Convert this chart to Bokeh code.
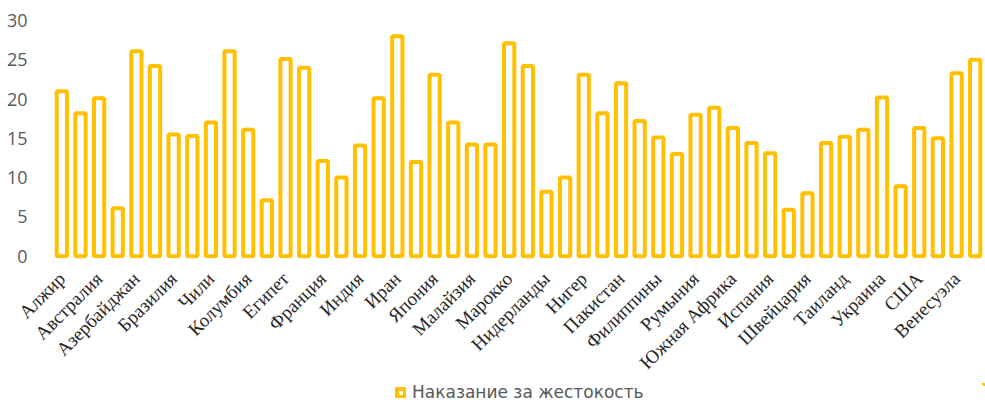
from bokeh.plotting import figure
from bokeh.layouts import column
from bokeh.models import Range1d, FixedTicker, Legend, LegendItem, ColumnDataSource
from bokeh.embed import file_html
from bokeh.resources import INLINE
import math

countries = [
    "Алжир", "Аргентина", "Австралия", "Австрия", "Азербайджан", "Бангладеш",
    "Бразилия", "Канада", "Чили", "Китай", "Колумбия", "Эквадор", "Египет",
    "Финляндия", "Франция", "Германия", "Индия", "Индонезия", "Иран", "Ирак",
    "Япония", "Казахстан", "Малайзия", "Мексика", "Марокко", "Непал",
    "Нидерланды", "Новая Зеландия", "Нигер", "Нигерия", "Пакистан", "Перу",
    "Филиппины", "Польша", "Румыния", "Россия", "Южная Африка", "Южная Корея",
    "Испания", "Швеция", "Швейцария", "Тайвань", "Таиланд", "Турция",
    "Украина", "Великобритания", "США", "Уругвай", "Венесуэла", "Вьетнам",
]
values = [
    21.0, 18.2, 20.1, 6.1, 26.1, 24.2, 15.5, 15.3, 17.0, 26.1,
    16.1, 7.1, 25.1, 24.0, 12.1, 10.0, 14.1, 20.1, 28.0, 12.0,
    23.1, 17.0, 14.2, 14.2, 27.1, 24.2, 8.2, 10.0, 23.1, 18.2,
    22.0, 17.2, 15.1, 13.0, 18.0, 18.9, 16.3, 14.4, 13.1, 5.9,
    8.0, 14.4, 15.2, 16.1, 20.2, 8.9, 16.3, 15.0, 23.3, 25.0,
]
series_name = "Наказание за жестокость"
y_ticks = [0, 5, 10, 15, 20, 25, 30]

BAR_COLOR = "#FFC000"
positions = list(range(1, len(countries) + 1))
source = ColumnDataSource(dict(x=positions, top=values, name=countries))

p = figure(
    width=985, height=383,
    output_backend="svg", toolbar_location=None,
    x_range=Range1d(0.5, len(countries) + 0.5),
    y_range=Range1d(-0.3, 30),
    min_border_left=52, min_border_right=1,
    min_border_top=20, min_border_bottom=119,
)
p.outline_line_color = None
p.background_fill_color = "white"
p.border_fill_color = "white"

p.vbar(x="x", top="top", bottom=0, width=0.55, source=source,
       fill_color="white", line_color=BAR_COLOR, line_width=4)

p.xgrid.visible = False
p.ygrid.visible = False

# y axis
p.yaxis.ticker = FixedTicker(ticks=y_ticks)
p.yaxis.axis_line_color = None
p.yaxis.major_tick_line_color = None
p.yaxis.minor_tick_line_color = None
p.yaxis.major_tick_out = 0
p.yaxis.major_label_standoff = 25
p.yaxis.major_label_text_font = "Open Sans"
p.yaxis.major_label_text_font_size = "18px"
p.yaxis.major_label_text_color = "#595959"

# x axis: every other category labelled
shown = positions[::2]
p.xaxis.ticker = FixedTicker(ticks=shown)
p.xaxis.major_label_overrides = {i: countries[i - 1] for i in shown}
p.xaxis.major_label_orientation = math.pi / 4
p.xaxis.axis_line_color = None
p.xaxis.major_tick_line_color = None
p.xaxis.minor_tick_line_color = None
p.xaxis.major_tick_out = 0
p.xaxis.major_label_standoff = 17
p.xaxis.major_label_text_font = "Liberation Serif"
p.xaxis.major_label_text_font_size = "19px"
p.xaxis.major_label_text_color = "#262626"

# legend strip below the chart (its swatch renderer lies outside its view)
lg = figure(
    width=985, height=19,
    output_backend="svg", toolbar_location=None,
    x_range=Range1d(-3, -2), y_range=Range1d(-3, -2),
    min_border_left=0, min_border_right=0,
    min_border_top=0, min_border_bottom=0,
)
lg.outline_line_color = None
lg.axis.visible = False
lg.grid.visible = False
swatch = lg.vbar(x="x", top="top", bottom=0, width=0.5, source=source,
                 fill_color="white", line_color=BAR_COLOR, line_width=5)
legend = Legend(items=[LegendItem(label=series_name, renderers=[swatch])],
                location=(343, 0), orientation="horizontal",
                padding=0, margin=0, border_line_color=None,
                background_fill_alpha=0,
                glyph_width=11, glyph_height=11, label_standoff=6,
                label_text_font="DejaVu Sans", label_text_font_size="17px",
                label_text_color="#595959")
lg.add_layout(legend, "center")

layout = column(p, lg, spacing=0)
open("out.html", "w").write(file_html(layout, INLINE))
